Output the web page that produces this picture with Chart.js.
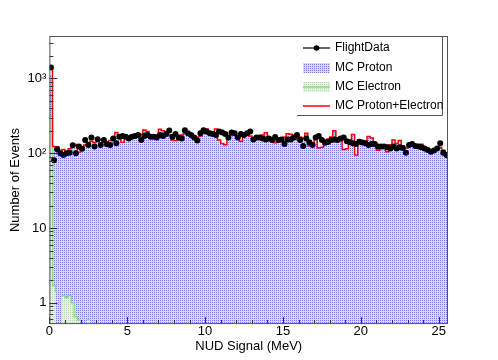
<!DOCTYPE html>
<html>
<head>
<meta charset="utf-8">
<script src="https://cdn.jsdelivr.net/npm/chart.js@4.4.1/dist/chart.umd.min.js"></script>
<style>
  html, body { margin: 0; padding: 0; background: #fff; }
</style>
</head>
<body>
<canvas id="nud-chart" width="498" height="360"></canvas>
<script>
// 128 bins of 0.2 MeV, lower edge of bin i is i * BIN_WIDTH
const BIN_WIDTH = 0.2;
const X_MAX = 25.6;
const Y_MIN = 0.52;
const Y_MAX = 3700;
const X_TICKS = [0, 5, 10, 15, 20, 25];
const Y_TICKS = [1, 10, 100, 1000];
const Y_TICK_LABELS = ['1', '10', '10²', '10³'];

const flightData = [
  1400, 81, 113, 100, 95, 100, 102, 128, 100, 123,
  115, 150, 129, 162, 123, 154, 129, 150, 132, 129,
  158, 136, 167, 170, 167, 158, 167, 170, 176, 150,
  170, 176, 167, 167, 163, 176, 170, 181, 201, 167,
  181, 163, 158, 204, 185, 176, 163, 148, 185, 204,
  195, 185, 181, 176, 195, 189, 181, 163, 189, 185,
  163, 181, 176, 185, 195, 153, 163, 163, 158, 153,
  158, 150, 165, 150, 153, 133, 153, 153, 163, 176,
  150, 125, 158, 140, 129, 163, 170, 150, 138, 142,
  150, 153, 150, 158, 163, 145, 140, 136, 133, 143,
  139, 136, 129, 133, 133, 123, 123, 123, 120, 116,
  123, 116, 120, 118, 102, 129, 133, 125, 123, 120,
  116, 111, 105, 109, 116, 136, 102, 95
];

const mcProton = [
  1100, 122, 121, 108, 111, 103, 114, 127, 130, 103,
  118, 129, 139, 144, 139, 147, 152, 148, 140, 148,
  155, 190, 160, 140, 165, 170, 168, 172, 170, 180,
  205, 195, 170, 165, 175, 210, 200, 180, 175, 150,
  148, 155, 175, 185, 190, 178, 172, 165, 170, 185,
  212, 190, 180, 212, 150, 135, 130, 160, 175, 180,
  170, 145, 175, 180, 170, 160, 165, 170, 175, 188,
  165, 160, 138, 140, 160, 165, 182, 180, 160, 155,
  165, 160, 185, 125, 130, 165, 118, 120, 150, 155,
  165, 200, 160, 150, 112, 115, 150, 178, 95, 150,
  140, 145, 168, 160, 130, 110, 125, 120, 105, 130,
  150, 135, 148, 125, 118, 125, 130, 128, 122, 132,
  118, 112, 108, 110, 112, 120, 110, 100
];

const mcElectron = [
  310, 1.7, 1.4, 0, 1.24, 1.17, 1.24, 1.0, 0.65, 0.59,
  0.59, 0, 0.6, 0.6, 0, 0, 0, 0, 0, 0,
  0, 0, 0, 0, 0, 0, 0, 0, 0, 0,
  0, 0, 0, 0, 0, 0, 0, 0, 0, 0,
  0, 0, 0, 0, 0, 0, 0, 0, 0, 0,
  0, 0, 0, 0, 0, 0, 0, 0, 0, 0,
  0, 0, 0, 0, 0, 0, 0, 0, 0, 0,
  0, 0, 0, 0, 0, 0, 0, 0, 0, 0,
  0, 0, 0, 0, 0, 0, 0, 0, 0, 0,
  0, 0, 0, 0, 0, 0, 0, 0, 0, 0,
  0, 0, 0, 0, 0, 0, 0, 0, 0, 0,
  0, 0, 0, 0, 0, 0, 0, 0, 0, 0,
  0, 0, 0, 0, 0, 0, 0, 0
];

const FONT = 'Liberation Sans, Arial, Helvetica, sans-serif';

const ctx = document.getElementById('nud-chart').getContext('2d');

// ROOT style dotted fill patterns
function makePattern(bg, dot) {
  const tile = document.createElement('canvas');
  tile.width = 2; tile.height = 2;
  const g = tile.getContext('2d');
  g.fillStyle = bg; g.fillRect(0, 0, 2, 2);
  g.fillStyle = dot; g.fillRect(0, 0, 1, 1);
  return ctx.createPattern(tile, 'repeat');
}
const bluePattern = makePattern('#d9dbfa', '#7777ee');
const greenPattern = makePattern('#e6f3e3', '#b2dcac');
const GREEN_LINE = '#86de86';

// histogram outline: one point per lower bin edge, plus the closing upper edge
const toSteps = (vals) => vals.map((y, i) => ({ x: i * BIN_WIDTH, y }))
  .concat([{ x: X_MAX, y: vals[vals.length - 1] }]);
const mcTotal = mcProton.map((v, i) => v + mcElectron[i]);
const dataPoints = flightData.map((y, i) => ({ x: (i + 0.5) * BIN_WIDTH, y }));

// inward ticks + frame, drawn over the histograms like ROOT does
const rootFrame = {
  id: 'rootFrame',
  afterDatasetsDraw(chart) {
    const { ctx: c, chartArea: a, scales: { x, y } } = chart;
    c.save();
    c.strokeStyle = '#333';
    c.lineWidth = 1;
    c.beginPath();
    for (let v = 0; v <= X_MAX; v += 1) {
      const px = Math.round(x.getPixelForValue(v)) + 0.5;
      const len = v % 5 === 0 ? 7 : 4;
      c.moveTo(px, a.bottom);
      c.lineTo(px, a.bottom - len);
    }
    for (let dec = 0.1; dec < Y_MAX; dec *= 10) {
      for (let m = 1; m <= 9; m++) {
        const v = dec * m;
        if (v < Y_MIN || v > Y_MAX) continue;
        const py = Math.round(y.getPixelForValue(v)) + 0.5;
        const len = m === 1 ? 8 : 4;
        c.moveTo(a.left, py);
        c.lineTo(a.left + len, py);
      }
    }
    c.stroke();
    c.strokeStyle = '#555';
    c.strokeRect(a.left + 0.5, a.top + 0.5, a.right - a.left - 1, a.bottom - a.top - 1);
    c.restore();
  }
};

const rootLegend = {
  id: 'rootLegend',
  afterDraw(chart) {
    const c = chart.ctx;
    const x0 = 303, x1 = 330, tx = 335;
    const rows = [48, 68, 87, 106];
    c.save();
    // shadow-style border on right and bottom
    c.strokeStyle = '#555';
    c.lineWidth = 1;
    c.beginPath();
    c.moveTo(297, 115.5); c.lineTo(442.5, 115.5); c.lineTo(442.5, 37);
    c.stroke();

    c.strokeStyle = '#000'; c.lineWidth = 1.2;
    c.beginPath(); c.moveTo(x0, rows[0]); c.lineTo(x1, rows[0]); c.stroke();
    c.fillStyle = '#000';
    c.beginPath(); c.arc((x0 + x1) / 2, rows[0], 2.8, 0, Math.PI * 2); c.fill();

    c.fillStyle = bluePattern;
    c.fillRect(x0, rows[1] - 5, x1 - x0, 10);

    c.fillStyle = greenPattern;
    c.fillRect(x0, rows[2] - 5, x1 - x0, 10);
    c.strokeStyle = GREEN_LINE; c.lineWidth = 1.5;
    c.beginPath(); c.moveTo(x0, rows[2]); c.lineTo(x1, rows[2]); c.stroke();

    c.strokeStyle = '#ff0000'; c.lineWidth = 1.5;
    c.beginPath(); c.moveTo(x0, rows[3]); c.lineTo(x1, rows[3]); c.stroke();

    c.fillStyle = '#000';
    c.font = '12px ' + FONT;
    c.textBaseline = 'middle';
    ['FlightData', 'MC Proton', 'MC Electron', 'MC Proton+Electron']
      .forEach((t, i) => c.fillText(t, tx, rows[i]));
    c.restore();
  }
};

new Chart(ctx, {
  type: 'line',
  data: {
    datasets: [
      {
        label: 'FlightData', data: dataPoints, showLine: false,
        pointRadius: 3, pointBackgroundColor: '#000', pointBorderColor: '#000', pointBorderWidth: 0,
        order: 0
      },
      {
        label: 'MC Proton+Electron', data: toSteps(mcTotal), stepped: 'before',
        borderColor: '#ff0000', borderWidth: 1.5, pointRadius: 0, fill: false, order: 1
      },
      {
        label: 'MC Electron', data: toSteps(mcElectron), stepped: 'before',
        borderColor: GREEN_LINE, borderWidth: 1.5, backgroundColor: greenPattern,
        fill: 'start', pointRadius: 0, order: 2
      },
      {
        label: 'MC Proton', data: toSteps(mcProton), stepped: 'before',
        borderColor: 'rgba(0,0,0,0)', borderWidth: 0, backgroundColor: bluePattern,
        fill: 'start', pointRadius: 0, order: 3
      }
    ]
  },
  options: {
    responsive: false,
    animation: false,
    layout: { padding: { top: 36, right: 50, left: 3, bottom: 6 } },
    plugins: { legend: { display: false }, tooltip: { enabled: false } },
    scales: {
      x: {
        type: 'linear', min: 0, max: X_MAX, bounds: 'data',
        afterBuildTicks: (s) => { s.ticks = X_TICKS.map(v => ({ value: v })); },
        grid: { display: false, drawTicks: false },
        border: { display: false },
        ticks: { padding: 0, maxRotation: 0, color: '#000', font: { family: FONT, size: 13 }, callback: (v) => String(v) },
        title: { display: true, text: 'NUD Signal (MeV)', color: '#000', font: { family: FONT, size: 13, lineHeight: 1.1 }, padding: { top: 0, bottom: 0 } }
      },
      y: {
        type: 'logarithmic', min: Y_MIN, max: Y_MAX, bounds: 'data',
        afterBuildTicks: (s) => { s.ticks = Y_TICKS.map(v => ({ value: v })); },
        grid: { display: false, drawTicks: false },
        border: { display: false },
        ticks: { padding: 3, color: '#000', font: { family: FONT, size: 13 }, callback: (v) => Y_TICK_LABELS[Y_TICKS.indexOf(v)] },
        title: { display: true, text: 'Number of Events', color: '#000', font: { family: FONT, size: 13 }, padding: { top: 5, bottom: 1 } }
      }
    }
  },
  plugins: [rootFrame, rootLegend]
});
</script>
</body>
</html>
